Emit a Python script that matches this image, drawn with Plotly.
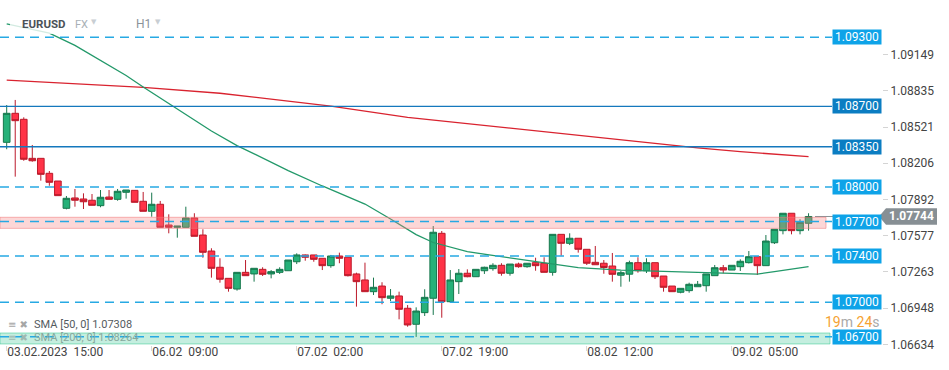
import plotly.graph_objects as go

# ---------------- data (EURUSD, H1 candles; index 0 = 03.02.2023 15:00) ----------------
candle_idx = list(range(95))

open_ = [1.08388, 1.08640, 1.08588, 1.08249, 1.08249, 1.08119, 1.08052, 1.07815, 1.07905, 1.07896,
         1.07885, 1.07838, 1.07913, 1.07893, 1.07954, 1.07971, 1.07876, 1.07789, 1.07850, 1.07670,
         1.07650, 1.07650, 1.07731, 1.07583, 1.07444, 1.07303, 1.07207, 1.07114, 1.07259, 1.07245,
         1.07285, 1.07245, 1.07259, 1.07273, 1.07351, 1.07410, 1.07410, 1.07381, 1.07317, 1.07401,
         1.07390, 1.07245, 1.07193, 1.07091, 1.07140, 1.07034, 1.07054, 1.06947, 1.06808, 1.06909,
         1.07034, 1.07598, 1.07004, 1.07178, 1.07251, 1.07221, 1.07273, 1.07291, 1.07320, 1.07251,
         1.07331, 1.07308, 1.07343, 1.07338, 1.07259, 1.07589, 1.07511, 1.07555, 1.07459, 1.07346,
         1.07338, 1.07314, 1.07234, 1.07243, 1.07343, 1.07273, 1.07343, 1.07227, 1.07140, 1.07086,
         1.07100, 1.07134, 1.07143, 1.07230, 1.07299, 1.07279, 1.07308, 1.07343, 1.07395, 1.07317,
         1.07516, 1.07621, 1.07772, 1.07621, 1.07685]

high = [1.08712, 1.08756, 1.08605, 1.08365, 1.08249, 1.08139, 1.08052, 1.07922, 1.07983, 1.07945,
        1.07939, 1.07974, 1.07974, 1.07983, 1.07974, 1.07971, 1.07957, 1.07951, 1.07879, 1.07763,
        1.07661, 1.07829, 1.07772, 1.07633, 1.07468, 1.07381, 1.07207, 1.07259, 1.07366, 1.07294,
        1.07303, 1.07279, 1.07303, 1.07366, 1.07424, 1.07414, 1.07410, 1.07381, 1.07410, 1.07430,
        1.07390, 1.07256, 1.07343, 1.07213, 1.07173, 1.07114, 1.07091, 1.06975, 1.06955, 1.07112,
        1.07661, 1.07618, 1.07279, 1.07288, 1.07285, 1.07285, 1.07308, 1.07338, 1.07338, 1.07331,
        1.07343, 1.07338, 1.07386, 1.07390, 1.07589, 1.07589, 1.07598, 1.07555, 1.07459, 1.07488,
        1.07366, 1.07427, 1.07271, 1.07360, 1.07390, 1.07381, 1.07343, 1.07227, 1.07140, 1.07120,
        1.07169, 1.07184, 1.07245, 1.07323, 1.07323, 1.07320, 1.07372, 1.07444, 1.07395, 1.07583,
        1.07633, 1.07772, 1.07772, 1.07720, 1.07772]

low = [1.08328, 1.08090, 1.08228, 1.08220, 1.08055, 1.08011, 1.07925, 1.07806, 1.07829, 1.07809,
       1.07841, 1.07824, 1.07893, 1.07881, 1.07899, 1.07867, 1.07789, 1.07742, 1.07650, 1.07598,
       1.07560, 1.07650, 1.07572, 1.07386, 1.07213, 1.07169, 1.07091, 1.07100, 1.07230, 1.07178,
       1.07227, 1.07207, 1.07245, 1.07273, 1.07331, 1.07360, 1.07351, 1.07279, 1.07299, 1.07338,
       1.07223, 1.06961, 1.07091, 1.07062, 1.06982, 1.07010, 1.06851, 1.06787, 1.06698, 1.06880,
       1.06889, 1.06865, 1.06995, 1.07071, 1.07216, 1.07221, 1.07245, 1.07273, 1.07230, 1.07230,
       1.07299, 1.07299, 1.07273, 1.07259, 1.07230, 1.07403, 1.07496, 1.07430, 1.07323, 1.07325,
       1.07247, 1.07178, 1.07134, 1.07178, 1.07256, 1.07253, 1.07201, 1.07091, 1.07091, 1.07077,
       1.07082, 1.07134, 1.07091, 1.07230, 1.07251, 1.07279, 1.07271, 1.07336, 1.07236, 1.07317,
       1.07505, 1.07589, 1.07589, 1.07589, 1.07621]

close = [1.08640, 1.08576, 1.08241, 1.08228, 1.08110, 1.08041, 1.07925, 1.07902, 1.07885, 1.07872,
         1.07841, 1.07911, 1.07893, 1.07963, 1.07974, 1.07867, 1.07789, 1.07850, 1.07650, 1.07650,
         1.07661, 1.07731, 1.07572, 1.07433, 1.07294, 1.07199, 1.07120, 1.07259, 1.07230, 1.07294,
         1.07242, 1.07265, 1.07285, 1.07366, 1.07410, 1.07390, 1.07372, 1.07317, 1.07401, 1.07381,
         1.07230, 1.07178, 1.07091, 1.07129, 1.07039, 1.07054, 1.06938, 1.06802, 1.06923, 1.07042,
         1.07607, 1.07004, 1.07193, 1.07251, 1.07221, 1.07285, 1.07303, 1.07320, 1.07251, 1.07331,
         1.07308, 1.07338, 1.07317, 1.07259, 1.07589, 1.07511, 1.07555, 1.07459, 1.07338, 1.07325,
         1.07301, 1.07242, 1.07256, 1.07343, 1.07273, 1.07343, 1.07221, 1.07129, 1.07091, 1.07120,
         1.07155, 1.07155, 1.07245, 1.07299, 1.07279, 1.07320, 1.07355, 1.07395, 1.07317, 1.07531,
         1.07633, 1.07772, 1.07621, 1.07694, 1.07744]

# moving averages
sma50_idx = [0, 5, 8, 11, 14, 16, 19, 20, 24, 27, 33, 37, 42, 45, 48, 50, 54, 60, 67, 72, 82, 88, 90, 94]
sma50_val = [1.09416, 1.09337, 1.09230, 1.09100, 1.08968, 1.08868, 1.08725, 1.08679, 1.08486, 1.08360,
             1.08143, 1.08009, 1.07852, 1.07722, 1.07587, 1.07518, 1.07438, 1.07373, 1.07300, 1.07278,
             1.07256, 1.07244, 1.07266, 1.07308]
sma200_idx = [0, 8, 16, 25, 32, 38, 47, 55, 60, 67, 73, 81, 86, 94]
sma200_val = [1.08929, 1.08898, 1.08866, 1.08814, 1.08755, 1.08703, 1.08605, 1.08543, 1.08498, 1.08447,
              1.08403, 1.08340, 1.08307, 1.08263]

# horizontal price levels
level_vals = [1.09300, 1.08700, 1.08350, 1.08000, 1.07700, 1.07400, 1.07000, 1.06700]
level_solid = [False, True, True, False, False, False, False, False]
zone_red = (1.07641, 1.07737)
zone_green = (1.06637, 1.06732)
last_price = 1.07744

ytick_vals = [1.06634, 1.06948, 1.07263, 1.07577, 1.07892, 1.08206, 1.08521, 1.08835, 1.09149]
xtick_idx = [0, 17, 34, 51, 68, 85]
xtick_text = ["03.02.2023\u00a0\u00a015:00", "06.02\u00a0\u00a009:00", "07.02\u00a0\u00a002:00",
              "07.02\u00a0\u00a019:00", "08.02\u00a0\u00a012:00", "09.02\u00a0\u00a005:00"]

# ---------------- layout geometry ----------------
W, H = 949, 370
ML, MR, MT, MB = 0, 67, 0, 25
PW, PH = W - ML - MR, H - MT - MB
X0, X1 = -0.785, 102.61
Y0, Y1 = 1.06628, 1.09624

def px(xp):   # pixel x -> paper
    return xp / PW

def py(yp):   # pixel y -> paper
    return 1 - yp / PH

def vy(v):    # value -> paper y
    return (v - Y0) / (Y1 - Y0)

FONT = "Roboto"
GREEN_F, GREEN_L = "#26b179", "#17774d"
RED_F, RED_L = "#ff3347", "#bb1a2b"

fig = go.Figure()

fig.add_trace(go.Scatter(x=sma200_idx, y=sma200_val, mode="lines",
                         line=dict(color="#d9232f", width=1.3), hoverinfo="skip"))
fig.add_trace(go.Scatter(x=sma50_idx, y=sma50_val, mode="lines",
                         line=dict(color="#23996a", width=1.3), hoverinfo="skip"))

fig.add_trace(go.Candlestick(
    x=candle_idx, open=open_, high=high, low=low, close=close,
    increasing=dict(line=dict(color=GREEN_L, width=1), fillcolor=GREEN_F),
    decreasing=dict(line=dict(color=RED_L, width=1), fillcolor=RED_F),
    whiskerwidth=0,
))

shapes = []
annotations = []

# zones
shapes.append(dict(type="rect", xref="paper", yref="y", x0=0, x1=px(826),
                   y0=zone_red[0], y1=zone_red[1],
                   fillcolor="rgba(245,130,130,0.32)",
                   line=dict(color="rgba(240,120,120,0.55)", width=1), layer="above"))
shapes.append(dict(type="rect", xref="paper", yref="y", x0=0, x1=px(830),
                   y0=zone_green[0], y1=zone_green[1],
                   fillcolor="rgba(60,200,150,0.30)",
                   line=dict(color="rgba(60,200,150,0.55)", width=1), layer="above"))

# level lines + labels
for v, solid in zip(level_vals, level_solid):
    col = "#1478bd" if solid else "#27a9e3"
    shapes.append(dict(type="line", xref="paper", yref="y", x0=0, x1=px(832), y0=v, y1=v,
                       line=dict(color=col, width=1.4 if solid else 1.5,
                                 dash="solid" if solid else "9px,6px"),
                       layer="above"))
    annotations.append(dict(xref="paper", yref="y", x=px(857), y=v, text=f"{v:.5f}",
                            showarrow=False, xanchor="center", yanchor="middle",
                            bgcolor="#0b7dc2" if solid else "#0ea3e8",
                            font=dict(family=FONT, size=12, color="white"),
                            width=46, height=12, borderpad=1))

# current price marker
shapes.append(dict(type="line", xref="paper", yref="paper", x0=px(815), x1=px(836),
                   y0=vy(last_price), y1=vy(last_price),
                   line=dict(color="#8a9296", width=1), layer="below"))
hh = 8.2 / PH
yc = vy(last_price)
shapes.append(dict(type="path", xref="paper", yref="paper",
                   path=(f"M {px(879)},{yc} L {px(886)},{yc + hh} L {px(937)},{yc + hh} "
                         f"L {px(937)},{yc - hh} L {px(886)},{yc - hh} Z"),
                   fillcolor="#878f94", line=dict(width=0), layer="above"))
annotations.append(dict(xref="paper", yref="paper", x=px(911.5), y=yc, text=f"<b>{last_price:.5f}</b>",
                        showarrow=False, xanchor="center", yanchor="middle",
                        font=dict(family=FONT, size=12, color="white")))

# header fade box
shapes.append(dict(type="rect", xref="paper", yref="paper", x0=px(10), x1=px(200),
                   y0=py(34), y1=py(12), fillcolor="rgba(255,255,255,0.8)",
                   line=dict(width=0), layer="above"))

# header texts
annotations += [
    dict(x=px(20), y=py(23.5), text="<b>EURUSD</b>", font=dict(family=FONT, size=11.5, color="#4b5258")),
    dict(x=px(72.5), y=py(24), text="FX", font=dict(family=FONT, size=11, color="#a9b0b6")),
    dict(x=px(89), y=py(22), text="▼", font=dict(family="DejaVu Sans", size=7, color="#c9ced3")),
    dict(x=px(133.5), y=py(24), text="H1", font=dict(family=FONT, size=12, color="#8b9399")),
    dict(x=px(152.5), y=py(22), text="▼", font=dict(family="DejaVu Sans", size=7, color="#c9ced3")),
    # indicator legend
    dict(x=px(6), y=py(324), text="≡ ✖", font=dict(family="DejaVu Sans", size=10, color="#a6a6a6")),
    dict(x=px(31.5), y=py(324), text="SMA [50, 0] 1.07308", font=dict(family=FONT, size=11, color="#555b60")),
    dict(x=px(6), y=py(337), text="≡ ✖", font=dict(family="DejaVu Sans", size=10, color="#9fb8b0")),
    dict(x=px(31.5), y=py(337), text="SMA [200, 0] 1.08264", font=dict(family=FONT, size=11, color="#86a89d")),
    # countdown
    dict(x=px(824), y=py(321.5), borderpad=0,
         text=("<span style='color:#f5a233'>19</span><span style='color:#a9a9a9'>m</span> "
               "<span style='color:#f5a233'>24</span><span style='color:#a9a9a9'>s</span>"),
         font=dict(family=FONT, size=14)),
]
for a in annotations:
    a.setdefault("xref", "paper")
    a.setdefault("yref", "paper")
    a.setdefault("showarrow", False)
    a.setdefault("xanchor", "left")
    a.setdefault("yanchor", "middle")

fig.update_layout(
    width=W, height=H,
    margin=dict(l=ML, r=MR, t=MT, b=MB),
    paper_bgcolor="white", plot_bgcolor="white",
    showlegend=False,
    boxgap=0.22, boxgroupgap=0,
    shapes=shapes, annotations=annotations,
    font=dict(family=FONT, color="#444"),
    xaxis=dict(range=[X0, X1], rangeslider=dict(visible=False), showgrid=False, zeroline=False,
               showline=False, tickvals=xtick_idx, ticktext=xtick_text, ticks="outside",
               ticklen=5, tickcolor="#d8d8d8", ticklabelposition="outside right",
               ticklabelstandoff=-4,
               tickfont=dict(family=FONT, size=12, color="#444")),
    yaxis=dict(range=[Y0, Y1], side="right", showgrid=False, zeroline=False, showline=False,
               tickvals=ytick_vals, ticktext=[f"{v:.5f}" for v in ytick_vals], ticks="outside",
               ticklen=5, tickcolor="#d4d4d4", tickfont=dict(family=FONT, size=12, color="#444")),
)

fig.write_html("out.html", config={"displayModeBar": False},
               post_script="document.body.style.margin='0';document.body.style.overflow='hidden';")
